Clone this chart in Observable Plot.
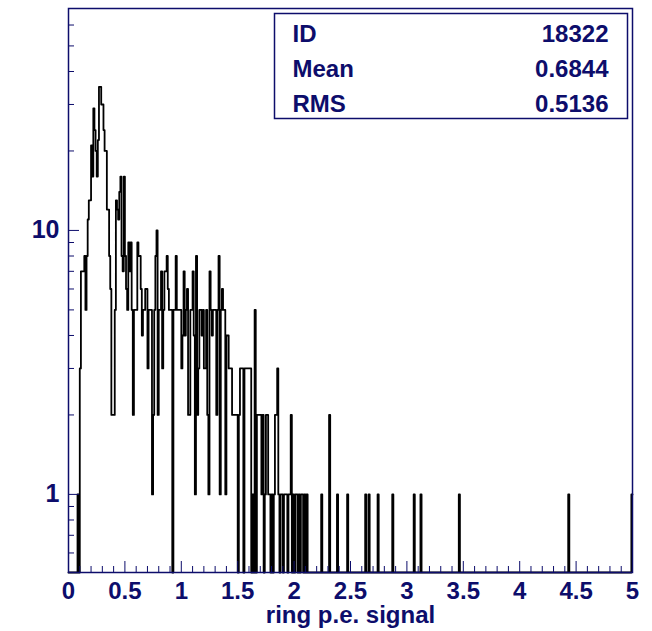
<!DOCTYPE html>
<html>
<head>
<meta charset="utf-8">
<script src="https://cdn.jsdelivr.net/npm/d3@7"></script>
<script src="https://cdn.jsdelivr.net/npm/@observablehq/plot@0.6"></script>
<style>
  html, body { margin: 0; padding: 0; background: #ffffff; }
  #chart { width: 652px; height: 631px; }
</style>
</head>
<body>
<div id="chart"></div>
<script>
// ---- data ----
const binWidth = 0.01;       // histogram bin width
const nBins = 500;           // 0 .. 5
// counts for the first bins (bin i covers [i*0.01, (i+1)*0.01))
const counts = [
  0,0,0,0,0,0,0,0,1,0,            // 0.00-0.09
  3,7,7,7,8,5,8,11,13,13,         // 0.10-0.19
  21,16,29,24,20,16,22,35,35,30,  // 0.20-0.29
  30,24,20,20,12,12,8,6,2,2,      // 0.30-0.39
  2,5,13,12,11,14,16,8,7,16,      // 0.40-0.49
  8,6,5,9,7,9,5,2,5,5,            // 0.50-0.59
  5,9,8,8,6,4,5,5,6,6,            // 0.60-0.69
  3,5,5,5,1,2,5,8,10,2,           // 0.70-0.79
  5,5,7,3,5,7,7,8,6,5,            // 0.80-0.89
  5,5,0,5,5,8,5,5,5,5,            // 0.90-0.99
  3,4,7,4,5,6,2,2,5,5,            // 1.00-1.09
  7,4,1,8,2,3,5,5,4,5,            // 1.10-1.19
  3,3,5,2,1,7,5,4,5,5,            // 1.20-1.29
  5,2,5,8,1,5,6,5,5,1,            // 1.30-1.39
  4,4,3,3,3,2,2,2,2,2,            // 1.40-1.49
  0,2,3,3,3,0,3,3,3,3,            // 1.50-1.59
  3,3,0,1,0,5,0,2,2,2,            // 1.60-1.69
  2,1,2,0,1,2,2,1,1,0,            // 1.70-1.79
  1,0,1,2,2,3,1,0,1,1,            // 1.80-1.89
  0,1,1,1,0,1,1,2,0,1,            // 1.90-1.99
  0,1,1,0,1,0,1,1,0,1,            // 2.00-2.09
  0,1,0,0,0,0,0,0,0,0,            // 2.10-2.19
  0,0,0,0,1,0,0,0,0,0,            // 2.20-2.29
  0,2                             // 2.30-2.31
];
// isolated bins in the tail
const tailBins   = [238, 247, 263, 266, 274, 287, 306, 312, 346, 443, 499];
const tailCounts = [1,   1,   1,   1,   1,   1,   1,   1,   1,   1,   1];

const xMajorTicks = [0, 0.5, 1, 1.5, 2, 2.5, 3, 3.5, 4, 4.5, 5];
const xTickLabels = ["0", "0.5", "1", "1.5", "2", "2.5", "3", "3.5", "4", "4.5", "5"];
const yMajorTicks = [1, 10];
const yTickLabels = ["1", "10"];
const yMinorTicks = [0.6, 0.7, 0.8, 0.9, 2, 3, 4, 5, 6, 7, 8, 9, 20, 30, 40, 50, 60];
const statLabels = ["ID", "Mean", "RMS"];
const statValues = ["18322", "0.6844", "0.5136"];
const xTitle = "ring p.e. signal";

// ---- build ----
const yMin = 0.506, yMax = 69.3;
const all = new Array(nBins).fill(0);
counts.forEach((c, i) => { all[i] = c; });
tailBins.forEach((b, k) => { all[b] = tailCounts[k]; });
const pts = all.map((c, i) => ({x: i / 100, y: c > 0 ? c : yMin}));
pts.push({x: 5, y: pts[pts.length - 1].y});
const xMinorTicks = d3.range(0, 51).map(k => k / 10).filter(v => !xMajorTicks.includes(v));

const navy = "#0d0d6b";
const font = "'Liberation Sans', Arial, Helvetica, sans-serif";

const chart = Plot.plot({
  width: 652,
  height: 631,
  marginLeft: 68,
  marginRight: 20,
  marginTop: 8,
  marginBottom: 59,
  style: {fontFamily: font, fontWeight: "bold", background: "#ffffff", color: navy, overflow: "visible"},
  x: {domain: [0, 5]},
  y: {type: "log", domain: [yMin, yMax], clamp: true},
  marks: [
    Plot.line(pts, {x: "x", y: "y", curve: "step-after", stroke: "#000000", strokeWidth: 1.8}),
    Plot.tickX(xMinorTicks, {x: d => d, stroke: navy, strokeWidth: 1, insetTop: 558}),
    Plot.tickX(xMajorTicks, {x: d => d, stroke: navy, strokeWidth: 1, insetTop: 553}),
    Plot.tickY(yMinorTicks, {y: d => d, stroke: navy, strokeWidth: 1, insetRight: 558}),
    Plot.tickY(yMajorTicks, {y: d => d, stroke: navy, strokeWidth: 1, insetRight: 553}),
    Plot.axisX(xMajorTicks, {
      tickSize: 0, tickPadding: 9, fontSize: 24, fill: navy, label: null,
      tickFormat: d => xTickLabels[xMajorTicks.indexOf(d)]
    }),
    Plot.axisY(yMajorTicks, {
      tickSize: 0, tickPadding: 9, fontSize: 25, fill: navy, label: null,
      tickFormat: d => yTickLabels[yMajorTicks.indexOf(d)]
    }),
    Plot.text([xTitle], {text: d => d, frameAnchor: "bottom", dy: 43, lineAnchor: "middle", fontSize: 24, fill: navy}),
    Plot.frame({stroke: navy, strokeWidth: 1.5}),
    Plot.frame({stroke: navy, strokeWidth: 1.5, fill: "#ffffff", insetLeft: 206, insetRight: 5, insetTop: 5, insetBottom: 454}),
    Plot.text([statLabels.join("\n")], {
      text: d => d, frameAnchor: "top-left", dx: 224, dy: 8, lineAnchor: "top",
      textAnchor: "start", lineHeight: 1.47, fontSize: 24, fill: navy
    }),
    Plot.text([statValues.join("\n")], {
      text: d => d, frameAnchor: "top-right", dx: -24, dy: 8, lineAnchor: "top",
      textAnchor: "end", lineHeight: 1.47, fontSize: 24, fill: navy
    })
  ]
});
document.getElementById("chart").appendChild(chart);
</script>
</body>
</html>
